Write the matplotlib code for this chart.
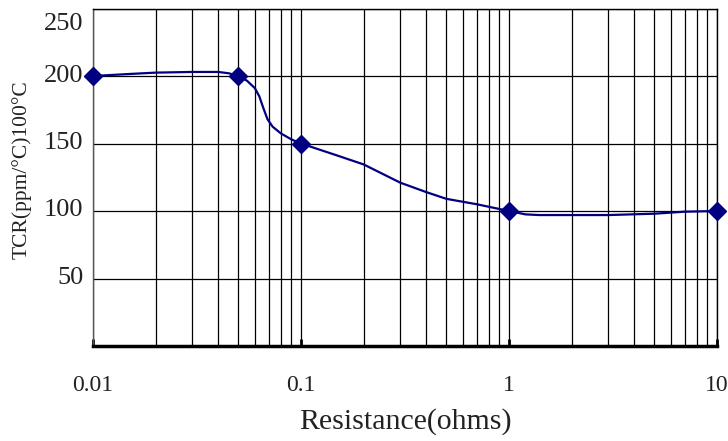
import matplotlib

matplotlib.use("Agg")

import matplotlib.pyplot as plt
import matplotlib.transforms as mtransforms
from matplotlib.ticker import FixedLocator, NullFormatter, LogLocator

plt.rcParams["font.family"] = ["Liberation Serif", "DejaVu Serif"]

# marked points
resistance_pts = [0.01, 0.05, 0.1, 1, 10]
tcr_pts = [200, 200, 150, 100, 100]

# curve
resistance_curve = [0.01, 0.015, 0.02, 0.03, 0.04, 0.045, 0.05, 0.055, 0.06,
                    0.063, 0.066, 0.069, 0.073, 0.08, 0.09, 0.1, 0.15, 0.2,
                    0.3, 0.4, 0.5, 0.7, 1.0, 1.2, 1.4, 2, 3, 5, 7, 10]
tcr_curve = [200, 201.5, 202.5, 203, 203, 202, 200, 196.5, 191,
             185, 176, 168, 162.5, 157.5, 153, 150, 141, 134.5,
             121, 114, 109, 105, 100, 97.5, 97, 97, 97, 98, 99.5, 100]

y_ticks = [50, 100, 150, 200, 250]
x_ticks = [0.01, 0.1, 1, 10]
x_tick_labels = ["0.01", "0.1", "1", "10"]

fig = plt.figure(figsize=(7.28, 4.41), dpi=100)
ax = fig.add_axes([93 / 728, 95 / 441, 624 / 728, 337.5 / 441])

ax.set_xscale("log")
ax.set_xlim(0.01, 10)
ax.set_ylim(0, 250)

ax.plot(resistance_curve, tcr_curve, color="#000080", lw=1.6, zorder=3)
ax.plot(resistance_pts, tcr_pts, linestyle="none", marker="D", ms=9,
        color="#000080", zorder=4, clip_on=False)

# grid: every minor decade step, plus y every 50
ax.xaxis.set_major_locator(FixedLocator(x_ticks))
ax.xaxis.set_minor_locator(LogLocator(base=10, subs=range(2, 10)))
ax.xaxis.set_minor_formatter(NullFormatter())
ax.set_xticklabels(x_tick_labels)
ax.set_yticks(y_ticks)
ax.grid(True, which="both", axis="x", color="black", lw=0.9)
ax.grid(True, which="major", axis="y", color="black", lw=0.9)

ax.tick_params(axis="x", which="major", direction="in", length=5, width=2,
               labelsize=17, pad=21, labelcolor="#222222")
ax.tick_params(axis="x", which="minor", length=0)
ax.tick_params(axis="y", length=0, labelsize=19, pad=7, labelcolor="#222222")

# y labels sit a little above their lines, the top one below the border
for value, label in zip(y_ticks, ax.get_yticklabels()):
    dy = -13 if value == 250 else 3
    shift = mtransforms.ScaledTranslation(0, dy / 100, fig.dpi_scale_trans)
    label.set_transform(label.get_transform() + shift)

for side in ["top", "right", "left"]:
    ax.spines[side].set_linewidth(1)
    ax.spines[side].set_color("black")
ax.spines["left"].set_color("#555555")
ax.spines["bottom"].set_linewidth(2.5)

xl = ax.set_xlabel("Resistance(ohms)", fontsize=21.5, color="#222222")
xl.set_va("center")
ax.xaxis.set_label_coords(0.5, -76 / 337.5)
yl = ax.set_ylabel("TCR(ppm/°C)100°C", fontsize=15.5, color="#222222")
yl.set_va("center")
ax.yaxis.set_label_coords(-71 / 624, 176 / 337.5)

fig.savefig("out.png", dpi=100)
plt.close(fig)
